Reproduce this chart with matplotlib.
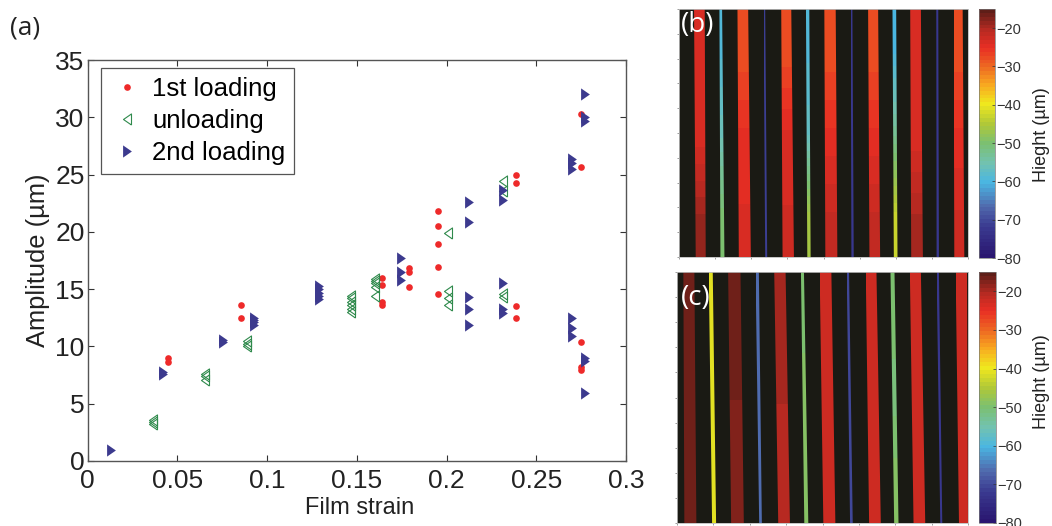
import numpy as np
import matplotlib
matplotlib.use('Agg')
import matplotlib.pyplot as plt
import matplotlib.colors as mcolors
import matplotlib.cm as cm
from matplotlib.patches import Polygon

W, H = 1052, 526

plt.rcParams['font.family'] = ['Liberation Sans', 'DejaVu Sans']

# panel (a)
load1_x = [0.0447, 0.0447, 0.0857, 0.0857, 0.164, 0.164, 0.164, 0.164, 0.179, 0.179, 0.179,
           0.1955, 0.1955, 0.1955, 0.1955, 0.1955, 0.2387, 0.2387, 0.2387, 0.2387,
           0.2747, 0.2747, 0.2747, 0.2747, 0.2747]
load1_y = [9.0, 8.6, 13.6, 12.45, 16.0, 15.4, 13.9, 13.64, 16.87, 16.46, 15.2,
           21.8, 20.55, 18.96, 16.9, 14.55, 24.95, 24.3, 13.5, 12.45,
           30.3, 25.7, 10.4, 8.2, 7.9]

unload_x = [0.0367, 0.0367, 0.0367, 0.0655, 0.0655, 0.0655, 0.089, 0.089, 0.089,
            0.1466, 0.1466, 0.1466, 0.1466, 0.1466, 0.1466,
            0.160, 0.160, 0.160, 0.160, 0.160,
            0.2009, 0.2009, 0.2009, 0.2009, 0.2313, 0.2313, 0.2313, 0.2313]
unload_y = [3.2, 3.4, 3.6, 7.1, 7.4, 7.6, 10.0, 10.2, 10.5,
            13.0, 13.3, 13.6, 13.9, 14.2, 14.4,
            15.2, 15.5, 15.7, 15.9, 14.4,
            19.87, 14.8, 14.2, 13.6, 24.4, 23.6, 14.3, 14.6]

load2_x = [0.0131, 0.0422, 0.0422, 0.0757, 0.0757, 0.0928, 0.0928, 0.0928, 0.0928,
           0.1291, 0.1291, 0.1291, 0.1291, 0.1291,
           0.1745, 0.1745, 0.1745, 0.2127, 0.2127, 0.2127, 0.2127, 0.2127,
           0.2316, 0.2316, 0.2316, 0.2316, 0.2316,
           0.2697, 0.2697, 0.2697, 0.2697, 0.2697, 0.2697,
           0.2772, 0.2772, 0.2772, 0.2772, 0.2772, 0.2772]
load2_y = [0.96, 7.6, 7.8, 10.4, 10.6, 11.9, 12.1, 12.3, 12.5,
           14.1, 14.4, 14.7, 15.0, 15.3,
           17.75, 16.5, 15.8, 22.57, 20.83, 14.3, 13.26, 11.87,
           23.65, 22.8, 15.56, 13.3, 12.9,
           26.4, 26.0, 25.5, 12.45, 11.6, 10.9,
           32.0, 30.0, 29.7, 8.96, 8.75, 5.96]

# panel (b) stripes: left/right edge at top and bottom, height at top/mid/bottom
b_left_top = [73, 149, 203, 281, 334, 408, 463, 542, 594, 667, 720, 798, 850]
b_right_top = [105, 157, 235, 286, 364, 418, 497, 547, 624, 678, 752, 804, 877]
b_left_bot = [78, 152, 207, 286, 338, 412, 466, 544, 598, 671, 723, 799, 852]
b_right_bot = [108, 164, 243, 292, 372, 422, 502, 551, 630, 682, 758, 806, 882]
b_height_top = [-24, -59, -28, -71, -28, -59, -28, -72, -28, -60, -24, -72, -28]
b_height_mid = [-24, -56, -25, -71, -24, -57, -25, -72, -25, -53, -24, -72, -25]
b_height_bot = [-19, -50, -24, -71, -23, -46, -22, -72, -22, -43, -20, -72, -23]

# panel (c) stripes
c_left_top = [41, 117, 175, 257, 313, 393, 449, 530, 587, 661, 719, 799, 856]
c_right_top = [74, 129, 212, 267, 347, 402, 484, 537, 619, 673, 752, 806, 890]
c_left_bot = [44, 127, 184, 268, 325, 403, 460, 540, 597, 672, 730, 810, 866]
c_right_bot = [80, 139, 222, 276, 360, 415, 496, 548, 632, 685, 765, 816, 893]
c_height_top = [-17, -41, -17, -66, -20, -50, -23, -70, -23, -50, -23, -72, -23]
c_height_mid = [-17, -41, -17, -66, -20, -49, -23, -70, -23, -51, -23, -72, -23]
c_height_bot = [-17, -41, -18, -66, -21, -49, -23, -70, -23, -49, -23, -72, -23]

cbar_ticks = [-20, -30, -40, -50, -60, -70, -80]

hmap = mcolors.LinearSegmentedColormap.from_list('height', [
    (0.0, '#2a1670'), (0.12, '#3a3a90'), (0.2, '#5068ac'), (0.3, '#4ab6e2'),
    (0.38, '#72c2b0'), (0.46, '#7cc070'), (0.54, '#b0c838'), (0.62, '#f0e81e'),
    (0.7, '#f8a820'), (0.77, '#ee6a22'), (0.85, '#e82e24'), (0.92, '#b82a22'),
    (1.0, '#5e1e18')], N=64)
hnorm = mcolors.Normalize(vmin=-80, vmax=-15)

# tall narrow triangles, as in the original
right_tri = [(-0.72, -1), (0.72, 0), (-0.72, 1), (-0.72, -1)]
left_tri = [(0.72, -1), (-0.72, 0), (0.72, 1), (0.72, -1)]


def px_axes(fig, left, top, right, bottom):
    return fig.add_axes([left / W, 1 - bottom / H, (right - left) / W, (bottom - top) / H])


def draw_stripes(ax, lt, rt, lb, rb, htop, hmid, hbot, xlim, ylim):
    ax.set_facecolor('#1a1a14')
    for i in range(len(lt)):
        grad = np.array([[htop[i]], [hmid[i]], [hbot[i]]])
        im = ax.imshow(grad, extent=[min(lt[i], lb[i]), max(rt[i], rb[i]), ylim[0], ylim[1]],
                       cmap=hmap, norm=hnorm, aspect='auto', interpolation='bilinear', origin='upper')
        poly = Polygon([(lt[i], ylim[1]), (rt[i], ylim[1]), (rb[i], ylim[0]), (lb[i], ylim[0])],
                       closed=True, transform=ax.transData, facecolor='none', edgecolor='none')
        ax.add_patch(poly)
        im.set_clip_path(poly)
    ax.set_xlim(xlim)
    ax.set_ylim(ylim)
    ax.set_xticks(np.linspace(xlim[0], xlim[1], 9))
    ax.set_yticks(np.linspace(ylim[0], ylim[1], 11))
    ax.set_xticklabels([])
    ax.set_yticklabels([])
    ax.tick_params(length=1.5, width=0.5, color='#777777')
    for s in ax.spines.values():
        s.set_color('#bbbbbb')
        s.set_linewidth(0.6)


def draw_cbar(fig, left, top, right, bottom, label_y):
    cax = px_axes(fig, left, top, right, bottom)
    cb = fig.colorbar(cm.ScalarMappable(norm=hnorm, cmap=hmap), cax=cax)
    cb.set_ticks(cbar_ticks)
    cb.ax.tick_params(labelsize=10.5, length=2, width=0.5, direction='in', pad=1, color='#333333',
                      labelcolor='#333333')
    cb.outline.set_edgecolor('#777777')
    cb.outline.set_linewidth(0.5)
    fig.text(1042 / W, 1 - label_y / H, 'Hieght (\u00b5m)', rotation=90, fontsize=13,
             ha='center', va='center', color='#222222')


fig = plt.figure(figsize=(W / 100, H / 100), dpi=100)

ax = px_axes(fig, 87.5, 60, 626, 461)
ax.plot(load1_x, load1_y, 'o', color='#ee2a2a', ms=4.8, mew=0, label='1st loading')
ax.plot(unload_x, unload_y, ls='none', marker=left_tri, mfc='none', mec='#2f8a4c', ms=8, mew=0.8, label='unloading')
ax.plot(load2_x, load2_y, ls='none', marker=right_tri, color='#3c3a8e', ms=8.8, mew=0, label='2nd loading')
ax.set_xlim(0, 0.3)
ax.set_ylim(0, 35)
ax.set_xticks([0, 0.05, 0.1, 0.15, 0.2, 0.25, 0.3])
ax.set_xticklabels(['0', '0.05', '0.1', '0.15', '0.2', '0.25', '0.3'])
ax.set_yticks(range(0, 36, 5))
ax.tick_params(direction='in', top=True, right=True, length=4, width=0.8, color='#333333',
               labelsize=19, pad=2, labelcolor='#222222')
ax.tick_params(axis='x', pad=6)
for s in ax.spines.values():
    s.set_color('#555555')
    s.set_linewidth(1.0)
ax.set_xlabel('Film strain', fontsize=17, labelpad=3, color='#222222', x=0.505)
ax.set_ylabel('Amplitude (\u00b5m)', fontsize=18.4, labelpad=4, color='#222222')
leg = ax.legend(loc='upper left', bbox_to_anchor=(101 / W, 1 - 68 / H), bbox_transform=fig.transFigure,
                frameon=True, fancybox=False, framealpha=1, edgecolor='#555555', fontsize=18.5,
                borderaxespad=0, borderpad=0.35, labelspacing=0.32, handletextpad=0.31, handlelength=1.33)
leg.get_frame().set_linewidth(0.9)

fig.text(10 / W, 1 - 28 / H, '(a)', fontsize=19, family='Open Sans', ha='left', va='center', color='#222222')

ax_b = px_axes(fig, 679, 9, 968, 257)
draw_stripes(ax_b, b_left_top, b_right_top, b_left_bot, b_right_bot,
             b_height_top, b_height_mid, b_height_bot, (28, 893), (772, 28))
ax_b.set_ylim(28, 772)
ax_b.invert_yaxis()
draw_cbar(fig, 979, 9, 995, 258, 135)
ax_b.text(0.005, 0.935, '(b)', transform=ax_b.transAxes, color='white', fontsize=20, family='Open Sans',
          ha='left', va='center')

ax_c = px_axes(fig, 677, 272, 968, 523)
draw_stripes(ax_c, c_left_top, c_right_top, c_left_bot, c_right_bot,
             c_height_top, c_height_mid, c_height_bot, (22, 893), (782, 30))
ax_c.set_ylim(30, 782)
ax_c.invert_yaxis()
draw_cbar(fig, 979, 272, 996, 523, 382)
ax_c.text(0.012, 0.895, '(c)', transform=ax_c.transAxes, color='white', fontsize=20, family='Open Sans',
          ha='left', va='center')

fig.savefig('out.png', dpi=100)
